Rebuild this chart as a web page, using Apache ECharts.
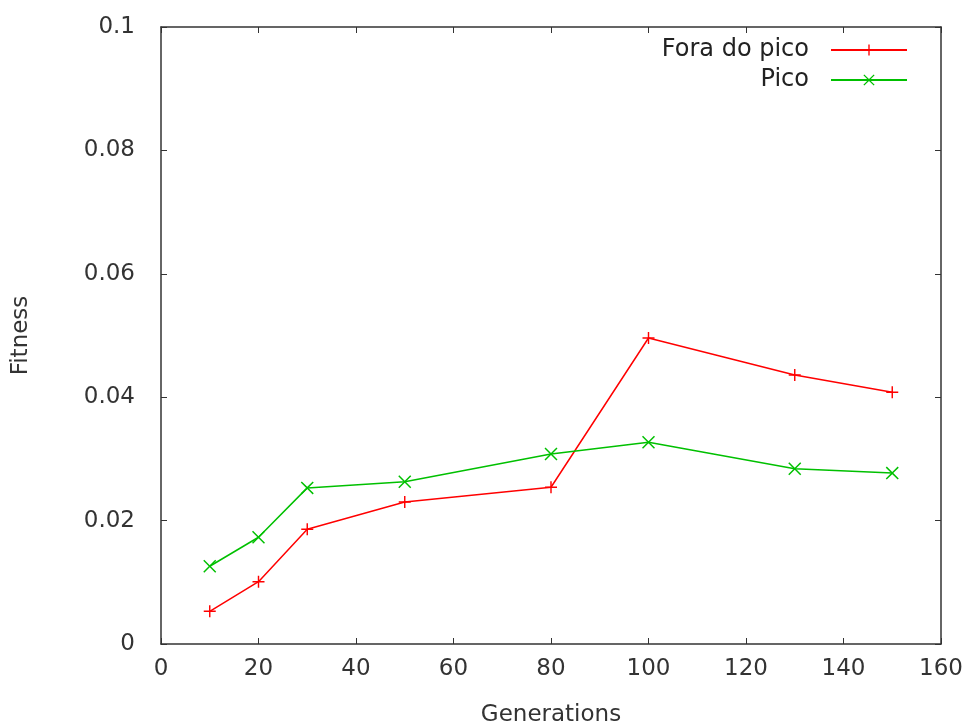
<!DOCTYPE html>
<html>
<head>
<meta charset="utf-8">
<script src="https://cdn.jsdelivr.net/npm/echarts@6/dist/echarts.min.js"></script>
<style>html,body{margin:0;padding:0;background:#fff}#c{width:970px;height:726px}</style>
</head>
<body>
<div id="c"></div>
<script>
const generations = [10, 20, 30, 50, 80, 100, 130, 150];
const foraDoPico = [0.0053, 0.0101, 0.0186, 0.0230, 0.0254, 0.0496, 0.0436, 0.0408];
const pico = [0.0126, 0.0173, 0.0253, 0.0263, 0.0308, 0.0327, 0.0284, 0.0277];
const seriesNames = ['Fora do pico', 'Pico'];
const xTitle = 'Generations';
const yTitle = 'Fitness';

const plusPath = 'path://M0,4.4L10,4.4L10,5.6L0,5.6Z M4.4,0L5.6,0L5.6,10L4.4,10Z';
const crossPath = 'path://M0.8,0L5,4.2L9.2,0L10,0.8L5.8,5L10,9.2L9.2,10L5,5.8L0.8,10L0,9.2L4.2,5L0,0.8Z';

const font = 'DejaVu Sans';
const axisColor = '#333';
const textColor = '#333';
const fs = 23;

function pairs(xs, ys) { return xs.map((x, i) => [x, ys[i]]); }

const chart = echarts.init(document.getElementById('c'));
chart.setOption({
  animation: false,
  backgroundColor: '#fff',
  grid: { left: 161, right: 29, top: 27, bottom: 82, show: false, containLabel: false, outerBoundsMode: 'none' },
  legend: {
    orient: 'vertical',
    right: 57,
    top: 33,
    align: 'right',
    itemWidth: 76,
    itemHeight: 14,
    itemGap: 6,
    textStyle: { fontFamily: font, fontSize: 24, lineHeight: 24, color: '#222', padding: [0, 17, 0, 0] },
    data: seriesNames
  },
  xAxis: [{
    type: 'value', min: 0, max: 160, interval: 20,
    name: xTitle, nameLocation: 'middle', nameGap: 60,
    nameTextStyle: { fontFamily: font, fontSize: fs, color: textColor },
    axisLine: { show: true, onZero: false, lineStyle: { color: axisColor, width: 1.5 } },
    axisTick: { show: true, inside: true, length: 6, lineStyle: { color: axisColor } },
    axisLabel: { fontFamily: font, fontSize: fs, color: textColor, margin: 14 },
    splitLine: { show: false }
  }, {
    type: 'value', min: 0, max: 160, interval: 20, position: 'top',
    axisLine: { show: true, onZero: false, lineStyle: { color: axisColor, width: 1.5 } },
    axisTick: { show: true, inside: true, length: 6, lineStyle: { color: axisColor } },
    axisLabel: { show: false }, splitLine: { show: false }
  }],
  yAxis: [{
    type: 'value', min: 0, max: 0.1, interval: 0.02,
    name: yTitle, nameLocation: 'middle', nameGap: 128, nameRotate: 90,
    nameTextStyle: { fontFamily: font, fontSize: fs, color: textColor },
    axisLine: { show: true, onZero: false, lineStyle: { color: axisColor, width: 1.5 } },
    axisTick: { show: true, inside: true, length: 6, lineStyle: { color: axisColor } },
    axisLabel: { fontFamily: font, fontSize: fs, color: textColor, margin: 26 },
    splitLine: { show: false }
  }, {
    type: 'value', min: 0, max: 0.1, interval: 0.02, position: 'right',
    axisLine: { show: true, onZero: false, lineStyle: { color: axisColor, width: 1.5 } },
    axisTick: { show: true, inside: true, length: 6, lineStyle: { color: axisColor } },
    axisLabel: { show: false }, splitLine: { show: false }
  }],
  series: [{
    name: seriesNames[0], type: 'line', data: pairs(generations, foraDoPico),
    symbol: plusPath, symbolSize: 12, showAllSymbol: true,
    lineStyle: { color: '#ff0000', width: 1.5 },
    itemStyle: { color: '#ff0000' }
  }, {
    name: seriesNames[1], type: 'line', data: pairs(generations, pico),
    symbol: crossPath, symbolSize: 13, showAllSymbol: true,
    lineStyle: { color: '#00c000', width: 1.5 },
    itemStyle: { color: '#00c000' }
  }]
});
</script>
</body>
</html>
